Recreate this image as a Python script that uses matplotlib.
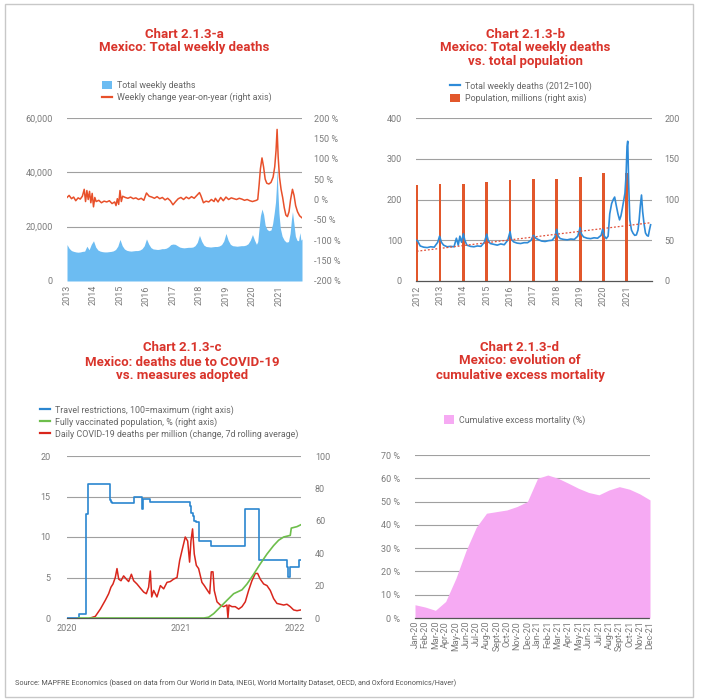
import numpy as np
import matplotlib
matplotlib.use("Agg")
import matplotlib.pyplot as plt
from matplotlib.patches import Patch, Rectangle
from matplotlib.lines import Line2D
from matplotlib.ticker import FuncFormatter

plt.rcParams['font.family'] = ['Roboto', 'DejaVu Sans']

W, H = 701, 700

# ---------------- chart a: total weekly deaths ----------------
a_deaths_pre = [
    13400, 12000, 11200, 10900, 10700, 10600, 10700, 10900, 11000, 12800, 11500, 13500,  # 2013
    14800, 12500, 11400, 11000, 10800, 10700, 10700, 10800, 10900, 11100, 11600, 12800,  # 2014
    15300, 13000, 11800, 11300, 11100, 11000, 11100, 11200, 11200, 11400, 11900, 13000,  # 2015
    15500, 13600, 12300, 11800, 11700, 11600, 11700, 11900, 11900, 12100, 12600, 13400,  # 2016
    13600, 13500, 13000, 12500, 12300, 12200, 12300, 12400, 12400, 12500, 13000, 14200,  # 2017
    16800, 14600, 13200, 12700, 12600, 12500, 12600, 12700, 12700, 12900, 13400, 14700,  # 2018
    17500, 15000, 13500, 13000, 12900, 12800, 12900, 13000, 13000, 13200, 13700, 15000,  # 2019
]
a_deaths_pre_x = 2013 + np.arange(len(a_deaths_pre)) / 12
a_deaths_cov_x = [2020.0, 2020.08, 2020.15, 2020.2, 2020.25, 2020.3, 2020.36, 2020.42, 2020.48, 2020.55,
                  2020.62, 2020.7, 2020.76, 2020.82, 2020.87, 2020.9, 2020.93, 2020.96, 2021.0, 2021.05,
                  2021.12, 2021.2, 2021.28, 2021.36, 2021.42, 2021.47, 2021.51, 2021.56, 2021.62, 2021.68,
                  2021.74, 2021.79, 2021.83, 2021.87]
a_deaths_cov = [17100, 15000, 13500, 14500, 19500, 24000, 26500, 24500, 20500, 19000,
                18500, 18800, 21000, 25000, 29000, 34000, 41500, 33000, 25000, 19500,
                16500, 15000, 14300, 14500, 17500, 22500, 25500, 21500, 16500, 15000,
                14800, 17800, 15000, 15500]

a_yoy_x = [2013.0, 2013.08, 2013.17, 2013.25, 2013.33, 2013.42, 2013.5, 2013.58, 2013.65, 2013.7,
           2013.75, 2013.8, 2013.85, 2013.9, 2013.95, 2014.0, 2014.05, 2014.1, 2014.2, 2014.3,
           2014.4, 2014.5, 2014.6, 2014.7, 2014.8, 2014.85, 2014.9, 2014.95, 2015.0, 2015.05,
           2015.1, 2015.2, 2015.3, 2015.4, 2015.5, 2015.6, 2015.7, 2015.8, 2015.9, 2016.0,
           2016.05, 2016.1, 2016.2, 2016.3, 2016.4, 2016.5, 2016.6, 2016.7, 2016.8, 2016.9,
           2017.0, 2017.1, 2017.2, 2017.3, 2017.4, 2017.5, 2017.6, 2017.7, 2017.8, 2017.9,
           2018.0, 2018.05, 2018.15, 2018.25, 2018.35, 2018.45, 2018.55, 2018.6, 2018.7, 2018.8,
           2018.9, 2019.0, 2019.1, 2019.2, 2019.3, 2019.4, 2019.5, 2019.6, 2019.7, 2019.8,
           2019.9, 2020.0, 2020.1, 2020.15,
           2020.2, 2020.25, 2020.3, 2020.36, 2020.42, 2020.48, 2020.54, 2020.62, 2020.7, 2020.78,
           2020.84, 2020.89, 2020.93, 2020.97, 2021.02, 2021.08, 2021.14, 2021.2, 2021.26, 2021.32,
           2021.38, 2021.44, 2021.51, 2021.57, 2021.63, 2021.7, 2021.78, 2021.87]
a_yoy = [5, 10, 2, 6, -3, 4, 1, 8, 25, -5,
         22, 0, 20, -8, 15, -18, 5, -5, -2, -8,
         -4, -6, -3, -10, -6, -15, 2, -12, 22, -5,
         8, 5, 3, 6, 2, 4, 0, 3, -2, 16,
         12, 8, 6, 3, 7, 2, 5, -1, 3, -3,
         -13, -5, 2, 5, 0, 6, 2, 7, 3, 10,
         17, 10, -8, -4, -6, 0, -5, 3, -6, 5,
         -3, 6, 0, 4, 2, 0, 3, 1, -2, 0,
         -3, -5, -3, -2,
         0, 35, 75, 102, 80, 50, 40, 38, 42, 55,
         80, 120, 172, 105, 55, 25, 5, -20, -38, -42,
         -30, 0, 25, 10, -15, -30, -40, -45]

# ---------------- chart b: deaths index vs population ----------------
b_idx_x = [2012.0, 2012.05, 2012.15, 2012.3, 2012.45, 2012.6, 2012.75, 2012.9, 2012.98, 2013.06,
           2013.15, 2013.3, 2013.45, 2013.6, 2013.7, 2013.78, 2013.85, 2013.92, 2014.0, 2014.06,
           2014.15, 2014.3, 2014.45, 2014.6, 2014.75, 2014.9, 2015.0, 2015.06, 2015.15, 2015.3,
           2015.45, 2015.6, 2015.75, 2015.9, 2016.0, 2016.06, 2016.15, 2016.3, 2016.45, 2016.6,
           2016.75, 2016.9, 2017.0, 2017.1, 2017.2, 2017.35, 2017.5, 2017.65, 2017.8, 2017.92,
           2018.0, 2018.06, 2018.15, 2018.3, 2018.45, 2018.6, 2018.75, 2018.9, 2019.0, 2019.06,
           2019.15, 2019.3, 2019.45, 2019.6, 2019.75, 2019.9,
           2019.97, 2020.04, 2020.12, 2020.2, 2020.27, 2020.35, 2020.42, 2020.48, 2020.55, 2020.62,
           2020.69, 2020.75, 2020.8, 2020.86, 2020.92, 2020.97, 2021.01, 2021.04, 2021.08, 2021.13,
           2021.2, 2021.27, 2021.34, 2021.41, 2021.48, 2021.53, 2021.58, 2021.63, 2021.68, 2021.74,
           2021.8, 2021.86, 2021.92, 2021.97, 2022.02]
b_idx = [100, 97, 86, 83, 82, 84, 83, 95, 110, 95,
         88, 84, 85, 84, 105, 88, 110, 95, 116, 100,
         88, 85, 84, 86, 85, 95, 115, 100, 92, 90,
         88, 91, 89, 100, 121, 102, 96, 93, 92, 94,
         94, 100, 112, 105, 102, 98, 97, 99, 100, 108,
         127, 110, 104, 102, 101, 103, 102, 110, 131, 115,
         108, 105, 104, 106, 105, 112,
         128, 110, 104, 110, 165, 190, 200, 206, 185, 165,
         150, 160, 175, 195, 215, 260, 330, 343, 240, 150,
         125, 117, 112, 113, 125, 150, 185, 211, 170, 140,
         118, 112, 110, 125, 138]
b_trend_x = [2012.0, 2022.02]
b_trend = [73, 143]
b_pop_years = [2012, 2013, 2014, 2015, 2016, 2017, 2018, 2019, 2020, 2021]
b_pop = [118, 119.5, 119.5, 122, 124, 125.5, 125.5, 128, 132, 133]

# ---------------- chart c: COVID-19 deaths vs measures ----------------
c_travel_x = [2020.0, 2020.102, 2020.169, 2020.185, 2020.374, 2020.385, 2020.397, 2020.59, 2020.655,
              2020.667, 2020.73, 2021.074, 2021.086, 2021.1, 2021.115, 2021.13, 2021.153, 2021.264,
              2021.556, 2021.679, 2021.927, 2021.94, 2021.955, 2022.035, 2022.05]
c_travel = [0, 2.7, 64, 82.6, 72.7, 71.5, 70.9, 74.4, 67.2,
            73.4, 71.9, 69, 65, 63, 60, 59, 47.3, 44.3,
            67.2, 35.5, 31.4, 25.6, 31.4, 35.5, 35.5]
c_vacc_x = [2020.1, 2021.2, 2021.241, 2021.285, 2021.343, 2021.401, 2021.46, 2021.533, 2021.577,
            2021.635, 2021.693, 2021.752, 2021.81, 2021.854, 2021.898, 2021.956, 2021.965, 2022.015,
            2022.05]
c_vacc = [0, 0, 0.5, 2.7, 6.8, 10.9, 15, 17.4, 21,
          27, 33.4, 39.5, 44.7, 48, 50, 51, 55.5, 56.4,
          57.6]
c_dpm_x = [2020.204, 2020.248, 2020.292, 2020.336, 2020.365, 2020.385, 2020.403, 2020.423, 2020.438,
           2020.453, 2020.473, 2020.496, 2020.52, 2020.54, 2020.564, 2020.584, 2020.613, 2020.642,
           2020.672, 2020.695, 2020.715, 2020.73, 2020.742, 2020.759, 2020.788, 2020.818, 2020.847,
           2020.876, 2020.905, 2020.934, 2020.964, 2020.987, 2021.007, 2021.036, 2021.057, 2021.074,
           2021.086, 2021.1, 2021.115, 2021.133, 2021.153, 2021.182, 2021.203, 2021.226, 2021.25,
           2021.264, 2021.279, 2021.29, 2021.314, 2021.343, 2021.372, 2021.401, 2021.41, 2021.419,
           2021.445, 2021.474, 2021.504, 2021.533, 2021.562, 2021.591, 2021.62, 2021.65, 2021.67,
           2021.693, 2021.723, 2021.752, 2021.781, 2021.81, 2021.839, 2021.869, 2021.898, 2021.927,
           2021.956, 2021.985, 2022.015, 2022.05]
c_dpm = [0, 0.2, 1.1, 2.2, 3.0, 3.8, 4.2, 5.0, 6.1,
         4.8, 4.6, 5.2, 4.8, 4.5, 5.4, 4.6, 4.2, 3.7,
         3.2, 3.0, 3.8, 5.8, 2.6, 3.4, 2.6, 4.0, 3.6,
         4.4, 4.5, 4.8, 5.0, 7.1, 8.3, 10.0, 9.5, 6.9,
         9.5, 11.0, 7.9, 6.5, 6.1, 4.4, 4.0, 3.5, 3.0,
         5.7, 5.7, 3.4, 2.0, 1.6, 1.4, 1.6, 0.0, 1.6,
         1.4, 1.4, 1.1, 1.4, 2.0, 3.4, 4.6, 5.5, 5.5,
         4.8, 4.2, 4.0, 3.4, 2.4, 1.8, 1.7, 1.6, 1.7,
         1.4, 1.0, 0.9, 1.0]

# ---------------- chart d: cumulative excess mortality ----------------
d_months = ["Jan-20", "Feb-20", "Mar-20", "Apr-20", "May-20", "Jun-20", "Jul-20", "Aug-20",
            "Sept-20", "Oct-20", "Nov-20", "Dec-20", "Jan-21", "Feb-21", "Mar-21", "Apr-21",
            "May-21", "Jun-21", "Jul-21", "Aug-21", "Sept-21", "Oct-21", "Nov-21", "Dec-21"]
d_excess = [5.7, 4.7, 3.3, 7.1, 17, 29, 39, 45, 45.7, 46.4, 47.9, 50,
            60, 61.4, 60, 57.9, 55.7, 53.9, 52.9, 55, 56.4, 55.3, 53.3, 50.7]

TITLE_RED = '#D9342B'
TXT = '#7a7a7a'
GRID = '#a0a0a0'
BLUE_A = '#6CBCF2'
RED_A = '#E8502A'
BLUE_B = '#2E8BD8'
RED_B = '#E2572B'
PINK = '#F6AAF3'

fig = plt.figure(figsize=(W / 100, H / 100), dpi=100)
fig.patch.set_facecolor('white')


def place(left, top, right, bottom):
    return fig.add_axes([left / W, 1 - bottom / H, (right - left) / W, (bottom - top) / H])


def clean(ax, lpad=10):
    for s in ax.spines.values():
        s.set_visible(False)
    ax.tick_params(axis='both', length=0, labelsize=6.5, colors=TXT)
    ax.tick_params(axis='y', pad=lpad)


def dotted_base(ax):
    sp = ax.spines['bottom']
    sp.set_visible(True)
    sp.set_linestyle((0, (1, 1)))
    sp.set_color('#555555')
    sp.set_linewidth(0.9)


def hide_zero_grid(ax):
    ax.get_ygridlines()[0].set_visible(False)


def title(x, ys, lines):
    for y, t in zip(ys, lines):
        fig.text(x / W, 1 - y / H, t, ha='center', va='center', color=TITLE_RED,
                 fontsize=9.5, fontweight='bold')


def legend(ax, handles, labels, x, y):
    lg = ax.legend(handles, labels, loc='upper left', bbox_to_anchor=(x / W, 1 - y / H),
                   bbox_transform=fig.transFigure, frameon=False, fontsize=6.4,
                   handlelength=1.15, handleheight=1.05, handletextpad=0.5,
                   labelspacing=0.3, borderaxespad=0, borderpad=0)
    for t in lg.get_texts():
        t.set_color('#666666')


pct = FuncFormatter(lambda v, p: f"{v:.0f} %")

# ---- chart a
ax = place(67, 118, 302, 281)
ax2 = ax.twinx()
ax.fill_between(np.concatenate([a_deaths_pre_x, a_deaths_cov_x]), a_deaths_pre + a_deaths_cov,
                color=BLUE_A, lw=0, zorder=2)
ax.set_xlim(2013, 2021.87)
ax.set_ylim(0, 60000)
ax.set_yticks([0, 20000, 40000, 60000])
ax.yaxis.set_major_formatter(FuncFormatter(lambda v, p: f"{v:,.0f}"))
ax.set_xticks(range(2013, 2022))
ax.set_xticklabels([str(y) for y in range(2013, 2022)], rotation=90, fontsize=5.5)
ax.grid(axis='y', color=GRID, lw=0.8)
ax.set_axisbelow(True)
hide_zero_grid(ax)
clean(ax, lpad=10)
ax.tick_params(axis='x', pad=3)
ax2.plot(a_yoy_x, a_yoy, color=RED_A, lw=1.1)
ax2.set_ylim(-200, 200)
ax2.set_yticks(range(-200, 201, 50))
ax2.yaxis.set_major_formatter(pct)
clean(ax2, lpad=9)
title(184, [34, 47], ["Chart 2.1.3-a", "Mexico: Total weekly deaths"])
legend(ax2, [Patch(facecolor=BLUE_A), Line2D([], [], color=RED_A, lw=1.6)],
       ["Total weekly deaths", "Weekly change year-on-year (right axis)"], 102, 81)

# ---- chart b
ax = place(416, 118, 652, 281)
ax2 = ax.twinx()
ax.set_zorder(ax2.get_zorder() + 1)
ax.patch.set_visible(False)
ax2.bar(b_pop_years, b_pop, width=0.12, color=RED_B, zorder=2)
ax2.set_ylim(0, 200)
ax2.set_yticks(range(0, 201, 50))
ax2.grid(axis='y', color=GRID, lw=0.8)
ax2.set_axisbelow(True)
hide_zero_grid(ax2)
clean(ax2, lpad=9)
ax.plot(b_idx_x, b_idx, color=BLUE_B, lw=1.2, zorder=3)
ax.plot(b_trend_x, b_trend, color='#E0503A', lw=0.9, ls=(0, (1.5, 1.5)), zorder=4)
ax.set_xlim(2011.97, 2022.08)
ax.set_ylim(0, 400)
ax.set_yticks(range(0, 401, 100))
ax.set_xticks(range(2012, 2022))
ax.set_xticklabels([str(y) for y in range(2012, 2022)], rotation=90, fontsize=5.5)
clean(ax, lpad=10)
ax.tick_params(axis='x', pad=3)
dotted_base(ax)
title(525, [34, 47, 61], ["Chart 2.1.3-b", "Mexico: Total weekly deaths", "vs. total population"])
legend(ax, [Line2D([], [], color=BLUE_B, lw=1.6), Patch(facecolor=RED_B)],
       ["Total weekly deaths (2012=100)", "Population, millions (right axis)"], 450, 81)

# ---- chart c
ax = place(67, 456, 301, 618)
ax2 = ax.twinx()
ax.plot(c_dpm_x, c_dpm, color='#D9261C', lw=1.1)
ax.set_xlim(2020.0, 2022.05)
ax.set_ylim(0, 20)
ax.set_yticks(range(0, 21, 5))
ax.set_xticks([2020, 2021, 2022])
ax.set_xticklabels(["2020", "2021", "2022"], fontsize=6.5)
ax.grid(axis='y', color=GRID, lw=0.8)
ax.set_axisbelow(True)
hide_zero_grid(ax)
clean(ax, lpad=12)
ax.tick_params(axis='x', pad=4)
dotted_base(ax)
ax2.plot(c_travel_x, c_travel, color='#2B86D0', lw=1.2, drawstyle='steps-post')
ax2.plot(c_vacc_x, c_vacc, color='#6DBE4B', lw=1.2)
ax2.set_ylim(0, 100)
ax2.set_yticks(range(0, 101, 20))
clean(ax2, lpad=10)
title(182, [347, 362, 376], ["Chart 2.1.3-c", "Mexico: deaths due to COVID-19", "vs. measures adopted"])
legend(ax2, [Line2D([], [], color='#2B86D0', lw=1.6), Line2D([], [], color='#6DBE4B', lw=1.6),
             Line2D([], [], color='#D9261C', lw=1.6)],
       ["Travel restrictions, 100=maximum (right axis)", "Fully vaccinated population, % (right axis)",
        "Daily COVID-19 deaths per million (change, 7d rolling average)"], 40, 405)

# ---- chart d
ax = place(415, 455, 650, 618)
pos = np.arange(len(d_months))
ax.fill_between(pos, d_excess, color=PINK, lw=0, zorder=2)
ax.set_xlim(0, len(d_months) - 1)
ax.set_ylim(0, 70)
ax.set_yticks(range(0, 71, 10))
ax.yaxis.set_major_formatter(pct)
ax.set_xticks(pos)
ax.set_xticklabels(d_months, rotation=90, fontsize=5.5)
ax.grid(axis='y', color=GRID, lw=0.8)
ax.set_axisbelow(True)
hide_zero_grid(ax)
clean(ax, lpad=11)
ax.tick_params(axis='x', pad=2)
dotted_base(ax)
title(520, [347, 361, 376], ["Chart 2.1.3-d", "Mexico: evolution of", "cumulative excess mortality"])
legend(ax, [Patch(facecolor=PINK)], ["Cumulative excess mortality (%)"], 444, 415)

fig.text(15 / W, 1 - 683 / H,
         "Source: MAPFRE Economics (based on data from Our World in Data, INEGI, World Mortality Dataset, "
         "OECD, and Oxford Economics/Haver)", fontsize=5.2, color='#555555', va='center')

fig.add_artist(Rectangle((5 / W, 1 - 697 / H), 688 / W, 693 / H, transform=fig.transFigure,
                         fill=False, ec='#c8c8c8', lw=1))

fig.savefig('out.png', dpi=100)
